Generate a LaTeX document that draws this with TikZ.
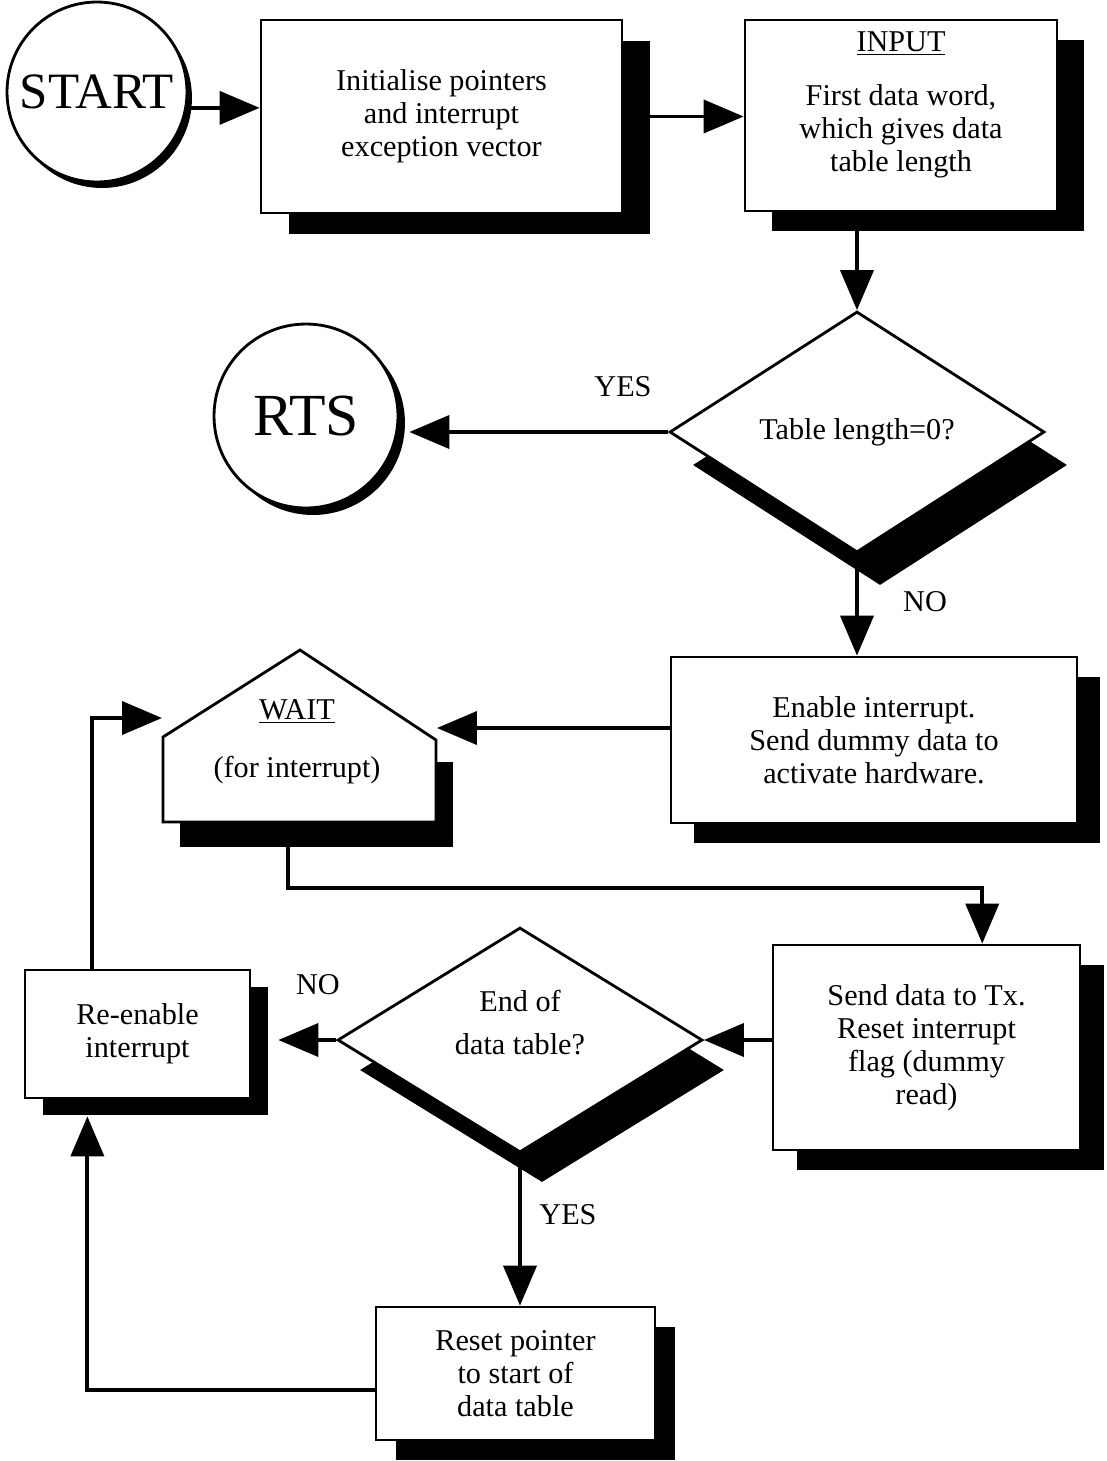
\documentclass[tikz,border=0pt]{standalone}
\usepackage{fontspec}
\setmainfont{Liberation Serif}
\usetikzlibrary{arrows.meta,calc,shapes.geometric,shadows}
\newcommand{\chartfont}{\fontsize{17.2pt}{18.8pt}\selectfont}

\begin{document}
\begin{tikzpicture}[x=0.02cm,y=-0.02cm,
  box/.style={draw,line width=1.6pt,fill=white,align=center,font=\chartfont,inner sep=0pt},
  decision/.style={diamond,aspect=1.6,draw,line width=1.6pt,fill=white,align=center,font=\chartfont,inner sep=0pt},
  terminal/.style={circle,draw,line width=1.6pt,fill=white,inner sep=0pt},
  shad/.style 2 args={drop shadow={shadow xshift=#1,shadow yshift=#2,fill=black,opacity=1}},
  lbl/.style={font=\chartfont,inner sep=0pt},
  arr/.style={-{Triangle[length=0.8cm,width=0.66cm]},line width=2.2pt}]
\useasboundingbox (0,0) rectangle (1106,1461);
% top row
\node[terminal,shad={0.1cm}{-0.12cm},minimum size=3.6cm,font=\fontsize{29pt}{32pt}\selectfont] (start) at (97,92) {START};
\node[box,shad={0.56cm}{-0.42cm},minimum width=7.22cm,minimum height=3.86cm] (init) at (441.5,116.5) {Initialise pointers\\and interrupt\\exception vector};
\node[box,shad={0.54cm}{-0.4cm},minimum width=6.24cm,minimum height=3.82cm,text depth=0.57cm] (input) at (901,115.5) {\underline{INPUT}\\[0.42cm]First data word,\\which gives data\\table length};
% first test
\node[decision,shad={0.46cm}{-0.66cm},minimum width=7.5cm,minimum height=4.82cm] (d1) at (857,432) {Table length=0?};
\node[terminal,shad={0.14cm}{-0.14cm},minimum size=3.68cm,font=\fontsize{34pt}{38pt}\selectfont] (rts) at (306,416) {RTS};
\node[box,shad={0.46cm}{-0.4cm},minimum width=8.12cm,minimum height=3.32cm] (enable) at (874,740) {Enable interrupt.\\Send dummy data to\\activate hardware.};
% wait block
\coordinate (w-nw) at (163,737);
\coordinate (w-top) at (300,650);
\coordinate (w-ne) at (436,740);
\coordinate (w-se) at (436,822);
\coordinate (w-sw) at (163,822);
\fill ($(w-nw)+(17,25)$) rectangle ($(w-se)+(17,25)$);
\draw[line width=1.6pt,fill=white] (w-sw) -- (w-nw) -- (w-top) -- (w-ne) -- (w-se) -- cycle;
\node[lbl,align=center] (wait) at (297,742) {\underline{WAIT}\\[0.5cm](for interrupt)};
\coordinate (w-in) at (437,728);
\coordinate (w-inl) at (162,718);
\coordinate (w-out) at (288,822);
% loop
\node[box,shad={0.48cm}{-0.4cm},minimum width=6.14cm,minimum height=4.1cm] (send) at (926.5,1047.5) {Send data to Tx.\\Reset interrupt\\flag (dummy\\read)};
\node[decision,shad={0.44cm}{-0.6cm},minimum width=7.3cm,minimum height=4.5cm,text depth=0.7cm] (d2) at (520,1040) {End of\\[0.2cm]data table?};
\node[box,shad={0.36cm}{-0.34cm},minimum width=4.5cm,minimum height=2.56cm] (reenable) at (137.5,1034) {Re-enable\\interrupt};
\node[box,shad={0.4cm}{-0.4cm},minimum width=5.58cm,minimum height=2.66cm] (reset) at (515.5,1373.5) {Reset pointer\\to start of\\data table};
% labels
\node[lbl] (yes1) at (623,387) {YES};
\node[lbl] (no1) at (925,602) {NO};
\node[lbl] (no2) at (318,985) {NO};
\node[lbl] (yes2) at (568,1215) {YES};
% connectors
\draw[arr] (start.-10) -- (start.-10 -| init.west);
\draw[arr] (init.east) -- (init.east -| input.west);
\draw[arr] (d1.north |- input.south) -- (d1.north);
\draw[arr,shorten >=0.2cm] (d1.west) -- (d1.west -| rts.east);
\draw[arr] (d1.south) -- (d1.south |- enable.north);
\draw[arr] (enable.west |- w-in) -- (w-in);
\draw[arr] (w-out) -- ++(0,66) -| ($(send.north west)!.68!(send.north east)$);
\draw[arr] (send.west |- d2.east) -- (d2.east);
\draw[arr,shorten >=0.54cm] (d2.west) -- (d2.west -| reenable.east);
\draw[arr] (d2.south) -- (d2.south |- reset.north);
\draw[arr] ($(reset.north west)!.62!(reset.south west)$) -| ($(reenable.south west)!.28!(reenable.south east)+(0,17)$);
\draw[arr] ($(reenable.north west)!.3!(reenable.north east)$) |- (w-inl);
\end{tikzpicture}
\end{document}
